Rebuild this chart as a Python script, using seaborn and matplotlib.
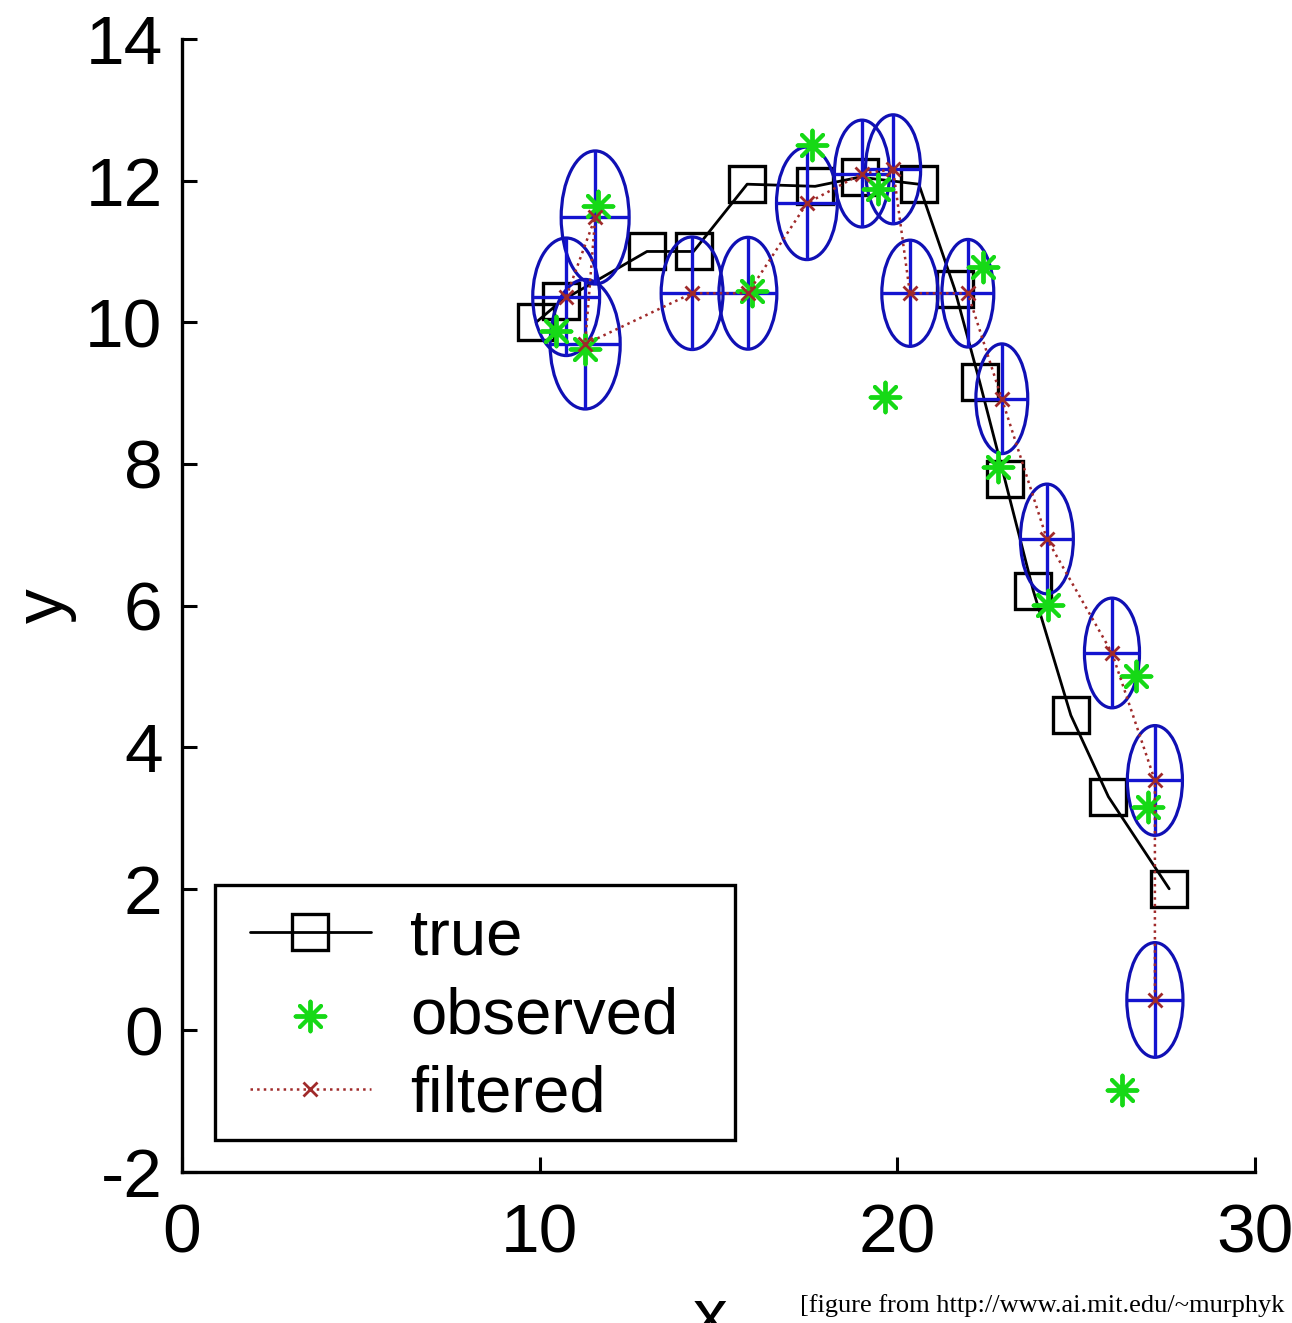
import matplotlib
matplotlib.use("Agg")
import matplotlib.pyplot as plt
from matplotlib.patches import Ellipse, Rectangle
import seaborn as sns
import pandas as pd
import numpy as np

# ---- data ----
true_x = [9.9, 10.6, 13.0, 14.3, 15.8, 17.7, 18.95, 20.6, 21.6, 22.3, 23.0, 23.8, 24.85, 25.9, 27.6]
true_y = [10.0, 10.3, 11.0, 11.0, 11.95, 11.92, 12.05, 11.95, 10.47, 9.16, 7.79, 6.21, 4.45, 3.3, 2.0]

obs_x = [10.45, 11.63, 11.27, 15.94, 17.61, 19.46, 19.65, 22.39, 22.81, 24.21, 26.67, 27.0, 26.28]
obs_y = [9.88, 11.64, 9.62, 10.44, 12.51, 11.88, 8.94, 10.78, 7.96, 6.01, 5.0, 3.16, -0.84]

filt_x = [10.74, 11.55, 11.27, 14.26, 15.82, 17.47, 19.01, 19.88, 20.35, 21.97, 22.92, 24.18, 26.0, 27.2, 27.2]
filt_y = [10.36, 11.48, 9.69, 10.41, 10.41, 11.68, 12.10, 12.16, 10.41, 10.41, 8.92, 6.94, 5.33, 3.53, 0.43]
ell_w = [1.87, 1.9, 1.96, 1.73, 1.62, 1.7, 1.54, 1.54, 1.57, 1.45, 1.45, 1.48, 1.54, 1.54, 1.57]
ell_h = [1.66, 1.88, 1.83, 1.59, 1.58, 1.59, 1.51, 1.54, 1.5, 1.52, 1.55, 1.55, 1.55, 1.55, 1.62]

x_ticks = [0, 10, 20, 30]
y_ticks = [-2, 0, 2, 4, 6, 8, 10, 12, 14]
series_labels = ["true", "observed", "filtered"]

# ---- style ----
sns.set_style("ticks")
plt.rcParams['font.family'] = ['Liberation Sans', 'DejaVu Sans']
plt.rcParams['axes.unicode_minus'] = False
plt.rcParams['text.color'] = 'black'
plt.rcParams['axes.labelcolor'] = 'black'

fig = plt.figure(figsize=(12.92, 13.23), dpi=100)
ax = fig.add_axes([0.1409, 0.1141, 0.8305, 0.8564])

df_true = pd.DataFrame({"x": true_x, "y": true_y})
df_obs = pd.DataFrame({"x": obs_x, "y": obs_y})
df_filt = pd.DataFrame({"x": filt_x, "y": filt_y})

blue = "#1010b4"
red = "#a02a2a"
sns.lineplot(data=df_true, x="x", y="y", sort=False, estimator=None, ax=ax,
             color="black", lw=2.0, marker="s", markersize=26,
             markerfacecolor="none", markeredgecolor="black", markeredgewidth=2.4,
             label=series_labels[0], zorder=2)

# ellipses and their axes
for cx, cy, w, h in zip(filt_x, filt_y, ell_w, ell_h):
    ax.add_patch(Ellipse((cx, cy), w, h, fill=False, edgecolor=blue, lw=2.3, zorder=3))
ax.errorbar(filt_x, filt_y, xerr=np.array(ell_w) / 2, yerr=np.array(ell_h) / 2,
            fmt="none", ecolor="#1414d0", elinewidth=2.4, capsize=0, zorder=3)

sns.scatterplot(data=df_obs, x="x", y="y", ax=ax, marker=(8, 2, 0), s=460,
                color="#16d916", linewidth=2.8, edgecolor="#16d916",
                label=series_labels[1], zorder=4)

sns.lineplot(data=df_filt, x="x", y="y", sort=False, estimator=None, ax=ax,
             color=red, lw=1.8, linestyle=":", marker="x", markersize=10,
             markeredgecolor=red, markeredgewidth=2.0,
             label=series_labels[2], zorder=5)

ax.set_xlim(0, 30)
ax.set_ylim(-2, 14)
ax.set_xticks(x_ticks)
ax.set_yticks(y_ticks)
ax.set_xticklabels([str(t) for t in x_ticks])
ax.set_yticklabels([str(t) for t in y_ticks])
ax.tick_params(direction="in", length=11, width=2.2, labelsize=50, colors="black", pad=14)
ax.tick_params(axis="x", pad=22)
sns.despine(ax=ax)
for s in ["left", "bottom"]:
    ax.spines[s].set_linewidth(2.4)
    ax.spines[s].set_color("black")

ax.set_xlabel("x", fontsize=50, va="center")
ax.xaxis.set_label_coords(0.492, -0.13)
ax.set_ylabel("y", fontsize=50, va="center")
ax.yaxis.set_label_coords(-0.128, 0.5)

# legend box (frame drawn separately so its padding matches the reference)
ax.add_patch(Rectangle((0.031, 0.028), 0.484, 0.225, transform=ax.transAxes,
                       facecolor="white", edgecolor="black", lw=2.4, zorder=9))
leg = ax.legend(loc="center left", bbox_to_anchor=(0.0634, 0.1375), borderaxespad=0,
                fontsize=47, frameon=False,
                handlelength=1.85, handletextpad=0.6, labelspacing=0.28,
                borderpad=0.0)
leg.set_zorder(10)

fig.text(0.619, 0.008, "[figure from http://www.ai.mit.edu/~murphyk",
         family=["Liberation Serif", "DejaVu Serif"], fontsize=19.0, va="baseline", ha="left")

fig.savefig("out.png", dpi=100, facecolor="white")
